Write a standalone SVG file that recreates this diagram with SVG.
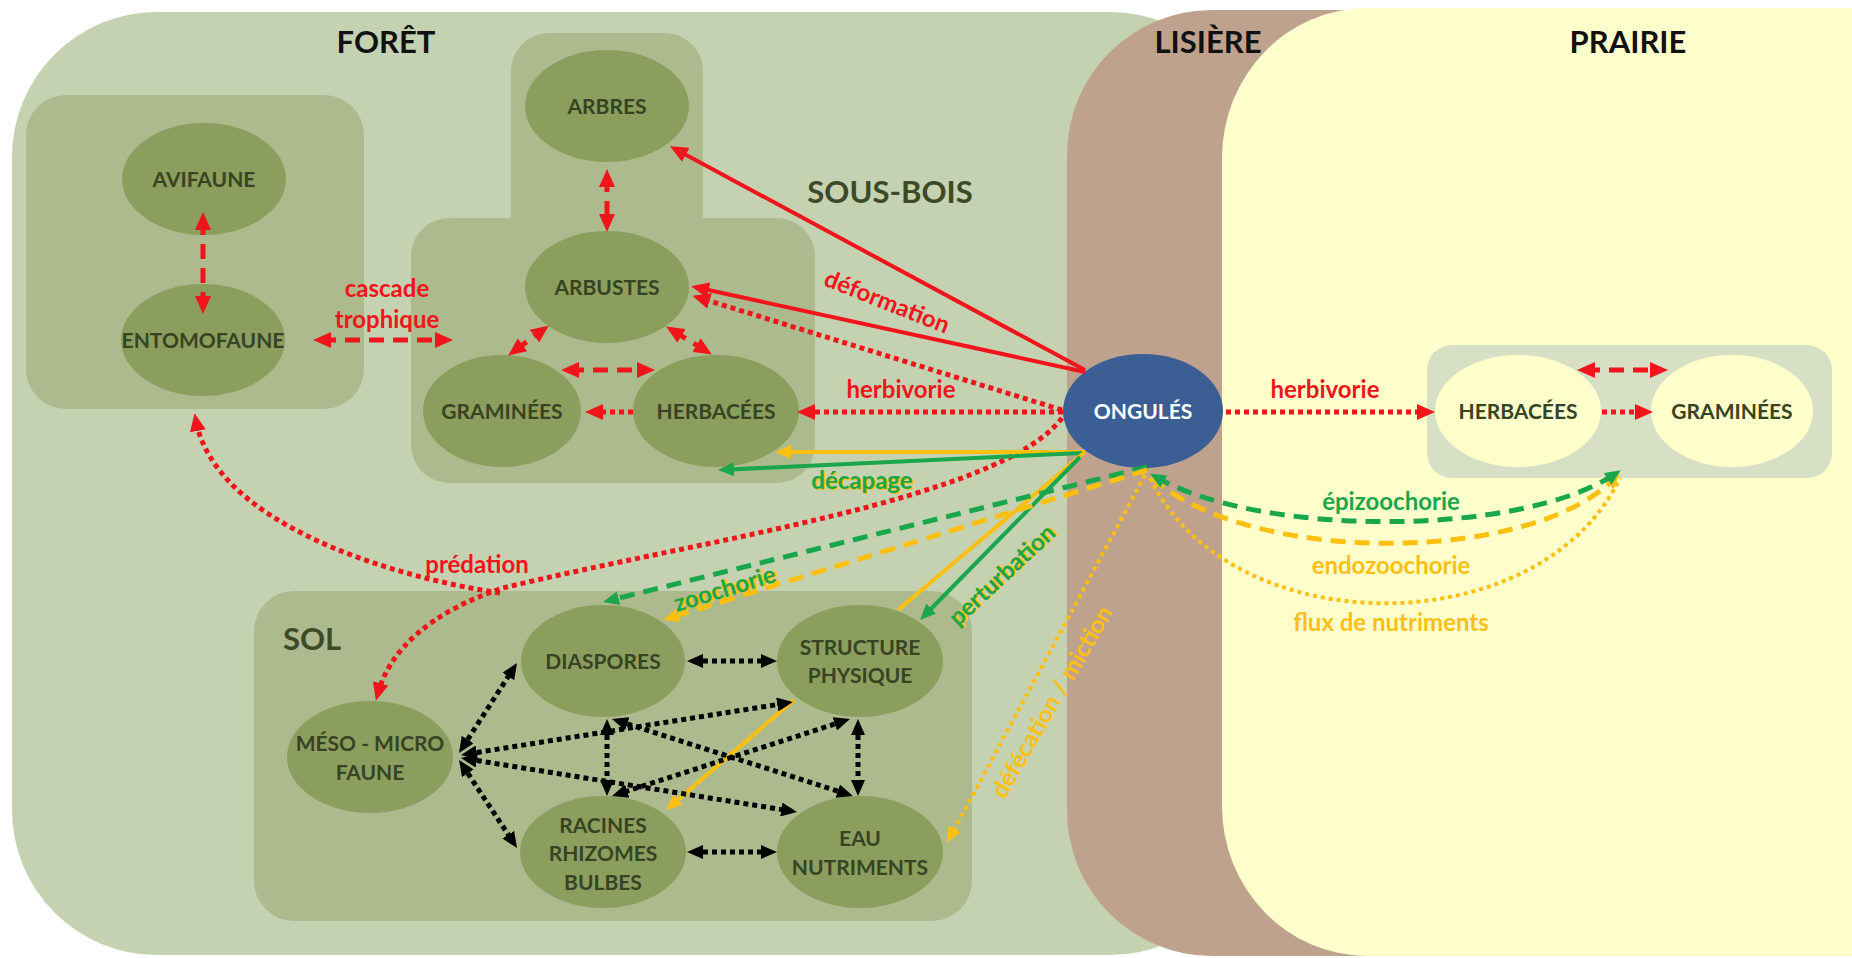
<svg xmlns="http://www.w3.org/2000/svg" width="1852" height="958" viewBox="0 0 1852 958">
<style>
.t{font-family:Lato,"Open Sans","Liberation Sans",sans-serif;font-weight:bold;text-anchor:middle}
.title{font-size:31px;fill:#111}
.sub{font-size:31px;fill:#3d4a27}
.node{fill:#8c9e5e}
.nt{font-size:21px;fill:#364423}
.pn{fill:#ffffcc}
.panel{fill:#adba8e}
.lab{font-size:24px}
.red{stroke:#f2141b;fill:none}
.grn{stroke:#19a64c;fill:none}
.yel{stroke:#fdc010;fill:none}
.blk{stroke:#000;fill:none}
.solid{stroke-width:4}
.dash{stroke-width:5;stroke-dasharray:15 9}
.dot{stroke-width:5;stroke-dasharray:5 4}
.ydot{stroke-width:4;stroke-dasharray:4 4}
</style>
<defs>
<marker id="aR" markerUnits="userSpaceOnUse" markerWidth="18" markerHeight="16" refX="10" refY="8" orient="auto-start-reverse"><path d="M0,0 L18,8 L0,16 z" fill="#f2141b"/></marker>
<marker id="aG" markerUnits="userSpaceOnUse" markerWidth="16" markerHeight="14" refX="9" refY="7" orient="auto-start-reverse"><path d="M0,0 L16,7 L0,14 z" fill="#19a64c"/></marker>
<marker id="aY" markerUnits="userSpaceOnUse" markerWidth="16" markerHeight="14" refX="9" refY="7" orient="auto-start-reverse"><path d="M0,0 L16,7 L0,14 z" fill="#fdc010"/></marker>
<marker id="aK" markerUnits="userSpaceOnUse" markerWidth="16" markerHeight="14" refX="9" refY="7" orient="auto-start-reverse"><path d="M0,0 L16,7 L0,14 z" fill="#000"/></marker>
</defs>
<rect width="1852" height="958" fill="#ffffff"/>
<g id="foret">
<rect x="12" y="12" width="1243" height="943" rx="145" fill="#c5d2b2"/>
<text class="t title" x="386" y="53">FORÊT</text>
</g>
<g id="lisiere">
<rect x="1067" y="10" width="560" height="946" rx="145" fill="#bfa28d"/>
<text class="t title" x="1208" y="53">LISIÈRE</text>
</g>
<g id="prairie">
<rect x="1222" y="8" width="780" height="948" rx="145" ry="150" fill="#ffffcc"/>
<text class="t title" x="1628" y="53">PRAIRIE</text>
</g>
<g id="faune-panel">
<rect class="panel" x="26" y="95" width="338" height="314" rx="40"/>
</g>
<g id="sous-bois">
<rect class="panel" x="511" y="33" width="192" height="250" rx="38"/>
<rect class="panel" x="411" y="218" width="404" height="265" rx="38"/>
<text class="t sub" x="890" y="203">SOUS-BOIS</text>
</g>
<g id="sol">
<rect class="panel" x="254" y="591" width="718" height="330" rx="40"/>
<text class="t sub" x="312" y="650">SOL</text>
</g>
<g id="prairie-panel">
<rect x="1427" y="345" width="405" height="133" rx="25" fill="#d7e0c4"/>
</g>
<g id="avifaune"><ellipse class="node" cx="204" cy="179" rx="82" ry="56"/><text class="t nt" x="204" y="187">AVIFAUNE</text></g>
<g id="entomofaune"><ellipse class="node" cx="203" cy="340" rx="82" ry="56"/><text class="t nt" x="203" y="348">ENTOMOFAUNE</text></g>
<g id="arbres"><ellipse class="node" cx="607" cy="106" rx="82" ry="56"/><text class="t nt" x="607" y="114">ARBRES</text></g>
<g id="arbustes"><ellipse class="node" cx="607" cy="287" rx="82" ry="56"/><text class="t nt" x="607" y="295">ARBUSTES</text></g>
<g id="graminees-foret"><ellipse class="node" cx="502" cy="411" rx="79" ry="56"/><text class="t nt" x="502" y="419">GRAMINÉES</text></g>
<g id="herbacees-foret"><ellipse class="node" cx="716" cy="411" rx="83" ry="56"/><text class="t nt" x="716" y="419">HERBACÉES</text></g>
<g id="ongules"><ellipse cx="1143" cy="411" rx="80" ry="57" fill="#3b5f95"/><text class="t nt" x="1143" y="419" style="fill:#fff">ONGULÉS</text></g>
<g id="herbacees-prairie"><ellipse class="pn" cx="1518" cy="411" rx="83" ry="56"/><text class="t nt" x="1518" y="419">HERBACÉES</text></g>
<g id="graminees-prairie"><ellipse class="pn" cx="1732" cy="411" rx="81" ry="56"/><text class="t nt" x="1732" y="419">GRAMINÉES</text></g>
<g id="diaspores"><ellipse class="node" cx="603" cy="661" rx="82" ry="56"/><text class="t nt" x="603" y="669">DIASPORES</text></g>
<g id="structure"><ellipse class="node" cx="860" cy="661" rx="83" ry="56"/><text class="t nt" x="860" y="655">STRUCTURE</text><text class="t nt" x="860" y="683">PHYSIQUE</text></g>
<g id="meso"><ellipse class="node" cx="370" cy="757" rx="83" ry="56"/><text class="t nt" x="370" y="751">MÉSO - MICRO</text><text class="t nt" x="370" y="780">FAUNE</text></g>
<g id="racines"><ellipse class="node" cx="603" cy="852" rx="83" ry="56"/><text class="t nt" x="603" y="833">RACINES</text><text class="t nt" x="603" y="861">RHIZOMES</text><text class="t nt" x="603" y="890">BULBES</text></g>
<g id="eau"><ellipse class="node" cx="860" cy="852" rx="83" ry="56"/><text class="t nt" x="860" y="846">EAU</text><text class="t nt" x="860" y="875">NUTRIMENTS</text></g>
<g id="connectors">
<path class="red solid" d="M1085,370 L677,150" marker-end="url(#aR)"/>
<path class="red solid" d="M1085,372 L699,288" marker-end="url(#aR)"/>
<path class="red dot" d="M1062,410 L700,298" marker-end="url(#aR)"/>
<path class="red dot" d="M1063,412 L805,412" marker-end="url(#aR)"/>
<path class="red dot" d="M633,412 L593,412" marker-end="url(#aR)"/>
<path class="red dash" d="M569,370 L647,370" marker-start="url(#aR)" marker-end="url(#aR)"/>
<path class="red dash" d="M514.6,350.8 L542.4,330.2" marker-start="url(#aR)" marker-end="url(#aR)"/>
<path class="red dash" d="M673,330.7 L705,350.3" marker-start="url(#aR)" marker-end="url(#aR)"/>
<path class="red dash" d="M607,177 L607,224" marker-start="url(#aR)" marker-end="url(#aR)"/>
<path class="red dash" d="M203,220 L203,306" marker-start="url(#aR)" marker-end="url(#aR)"/>
<path class="red dash" d="M321,340 L445,340" marker-start="url(#aR)" marker-end="url(#aR)"/>
<path class="red dot" d="M1062,418 C1000,500 700,540 503,588 C430,612 390,650 378,693" marker-end="url(#aR)"/>
<path class="red dot" d="M500,593 C380,575 215,520 196,421" marker-end="url(#aR)"/>
<path class="red dot" d="M1226,412 L1427,412" marker-end="url(#aR)"/>
<path class="red dot" d="M1602,412 L1645,412" marker-end="url(#aR)"/>
<path class="red dash" d="M1585,370 L1660,370" marker-start="url(#aR)" marker-end="url(#aR)"/>
<path class="yel solid" d="M1085,452 L782,452" marker-end="url(#aY)"/>
<path class="grn solid" d="M1082,453 L725,469.7" marker-end="url(#aG)"/>
<path class="yel solid" d="M1085,452 L898,610"/>
<path class="grn solid" d="M1080,457 L925,615" marker-end="url(#aG)"/>
<path class="yel solid" d="M794,700 L671.3,805.4" marker-end="url(#aY)"/>
<path class="grn dash" d="M1147,467 L609.8,600.3" marker-end="url(#aG)"/>
<path class="yel dash" d="M1147,470 L669.7,617.9" marker-end="url(#aY)"/>
<path class="yel ydot" d="M1145,475 L950.3,836.8" marker-end="url(#aY)"/>
<path class="yel ydot" d="M1150,478 C1230,645 1540,645 1620,478"/>
<path class="yel dash" d="M1152,478 C1250,565 1530,565 1615,478" marker-end="url(#aY)"/>
<path class="grn dash" d="M1156,477 C1260,537 1520,537 1615,474" marker-start="url(#aG)" marker-end="url(#aG)"/>
<path class="blk dot" d="M694,661 L770,661" marker-start="url(#aK)" marker-end="url(#aK)"/>
<path class="blk dot" d="M694,852 L770,852" marker-start="url(#aK)" marker-end="url(#aK)"/>
<path class="blk dot" d="M462.8,747.1 L513.2,668.9" marker-start="url(#aK)" marker-end="url(#aK)"/>
<path class="blk dot" d="M462.9,765.8 L513.2,842.2" marker-start="url(#aK)" marker-end="url(#aK)"/>
<path class="blk dot" d="M467.9,753.9 L786.1,703.1" marker-start="url(#aK)" marker-end="url(#aK)"/>
<path class="blk dot" d="M467.9,759.1 L790.1,810.9" marker-start="url(#aK)" marker-end="url(#aK)"/>
<path class="blk dot" d="M607,726 L607,789" marker-start="url(#aK)" marker-end="url(#aK)"/>
<path class="blk dot" d="M858,726 L858,789" marker-start="url(#aK)" marker-end="url(#aK)"/>
<path class="blk dot" d="M618.7,721.1 L846.3,793.9" marker-start="url(#aK)" marker-end="url(#aK)"/>
<path class="blk dot" d="M843.3,721.2 L618.7,793.8" marker-start="url(#aK)" marker-end="url(#aK)"/>
</g>
<g id="labels">
<text class="t lab" x="387" y="297" fill="#f2141b">cascade</text>
<text class="t lab" x="387" y="328" fill="#f2141b">trophique</text>
<text class="t lab" x="887" y="310" fill="#f2141b" transform="rotate(21.6 887 302)">déformation</text>
<text class="t lab" x="901" y="398" fill="#f2141b">herbivorie</text>
<text class="t lab" x="1325" y="398" fill="#f2141b">herbivorie</text>
<text class="t lab" x="477" y="573" fill="#f2141b">prédation</text>
<text class="t lab" x="864" y="490" fill="#fdc010">décapage</text>
<text class="t lab" x="862" y="489" fill="#19a64c">décapage</text>
<text class="t lab" x="728" y="598" fill="#fdc010" transform="rotate(-17 725 590)">zoochorie</text>
<text class="t lab" x="725" y="597" fill="#19a64c" transform="rotate(-17 725 590)">zoochorie</text>
<text class="t lab" x="1004" y="584" fill="#fdc010" transform="rotate(-43 1002 575)">perturbation</text>
<text class="t lab" x="1002" y="583" fill="#19a64c" transform="rotate(-43 1002 575)">perturbation</text>
<text class="t lab" x="1052" y="710" fill="#fdc010" transform="rotate(-60 1052 702)">défécation / miction</text>
<text class="t lab" x="1391" y="510" fill="#19a64c">épizoochorie</text>
<text class="t lab" x="1391" y="574" fill="#fdc010">endozoochorie</text>
<text class="t lab" x="1391" y="631" fill="#fdc010">flux de nutriments</text>
</g>
</svg>
